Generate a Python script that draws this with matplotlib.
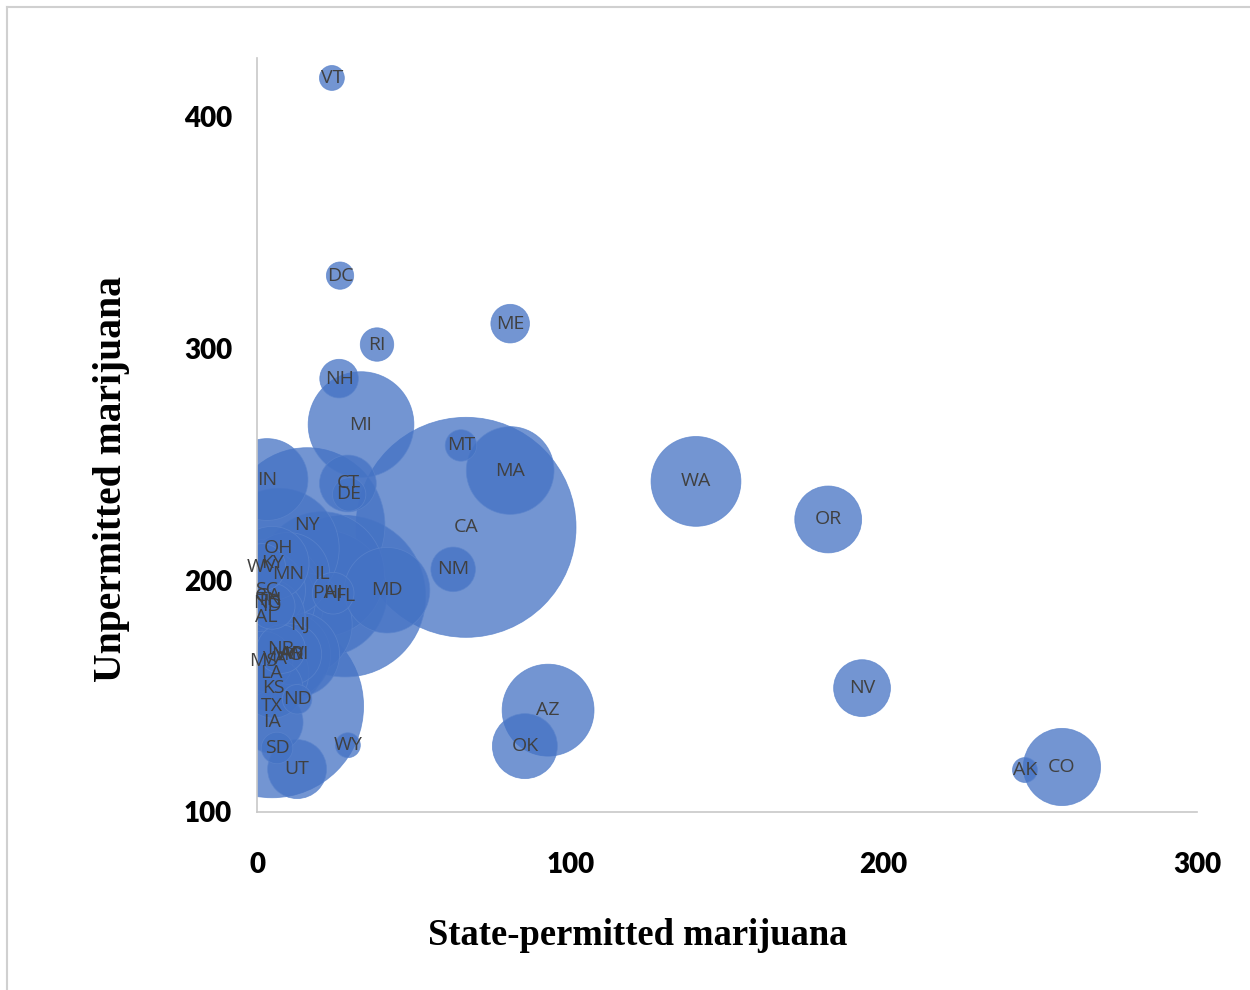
import numpy as np
import matplotlib.pyplot as plt
from matplotlib.lines import Line2D

# state codes, rates (per 100k) and bubble size (population, millions)
states = ['CA', 'TX', 'FL', 'NY', 'PA', 'IL', 'OH', 'GA', 'NC', 'MI',
          'NJ', 'VA', 'WA', 'AZ', 'MA', 'TN', 'IN', 'MO', 'MD', 'WI',
          'CO', 'MN', 'SC', 'AL', 'LA', 'KY', 'OR', 'OK', 'CT', 'UT',
          'IA', 'NV', 'AR', 'MS', 'KS', 'NM', 'NB', 'ID', 'WV', 'HI',
          'NH', 'ME', 'MT', 'RI', 'DE', 'SD', 'ND', 'AK', 'DC', 'VT', 'WY']
state_permitted = [66.7, 4.8, 28.1, 16.0, 21.4, 20.7, 7.0, 3.5, 3.2, 33.2,
                   13.7, 5.7, 140.1, 92.9, 80.8, 4.1, 3.2, 9.6, 41.5, 12.8,
                   256.9, 9.9, 2.9, 2.9, 4.5, 4.8, 182.3, 85.5, 29.0, 12.8,
                   4.8, 193.1, 10.9, 1.9, 5.1, 62.6, 7.7, 4.8, 1.6, 24.3,
                   26.2, 80.8, 65.1, 38.3, 29.4, 6.4, 12.8, 245.1, 26.5, 23.9, 29.0]
unpermitted = [222.7, 145.6, 193.0, 223.5, 194.3, 202.5, 213.6, 193.0, 190.0, 267.0,
               180.9, 165.9, 242.5, 143.9, 247.2, 191.3, 243.3, 167.6, 195.6, 168.0,
               119.4, 202.5, 195.6, 183.9, 159.8, 207.2, 226.1, 128.4, 241.6, 118.5,
               138.7, 153.4, 168.0, 165.0, 153.4, 204.6, 170.2, 188.7, 205.5, 194.3,
               286.8, 310.5, 258.0, 301.5, 236.9, 127.6, 148.6, 118.1, 331.2, 416.4, 128.8]
population = [39.0, 27.0, 21.0, 19.5, 12.8, 12.6, 11.7, 10.5, 10.3, 9.0,
              8.8, 8.4, 6.5, 6.8, 6.2, 6.7, 5.4, 6.1, 5.9, 5.8,
              4.8, 5.6, 5.0, 4.9, 4.6, 4.4, 3.6, 3.4, 2.6, 2.8,
              3.1, 2.6, 3.0, 2.9, 2.9, 1.6, 1.9, 1.7, 1.8, 1.4,
              1.2, 1.2, 0.8, 0.9, 0.9, 0.8, 0.7, 0.5, 0.6, 0.5, 0.5]

xticks = [0, 100, 200, 300]
yticks = [100, 200, 300, 400]

fig = plt.figure(figsize=(12.5, 9.9), dpi=100)
ax = fig.add_axes([0.2056, 0.1798, 0.752, 0.7616])

# bubble area proportional to population, CA ~ 110 px radius
max_r_pt = 110 * 72 / 100
sizes = (2 * max_r_pt) ** 2 * np.array(population) / max(population)

ax.scatter(state_permitted, unpermitted, s=sizes, color='#4472C4', alpha=0.75,
           edgecolors='#5b84cc', linewidths=0.6, zorder=2)

for st, x, y in zip(states, state_permitted, unpermitted):
    ax.text(x, y, st, ha='center', va='center', fontsize=14, color='#404040',
            family='Open Sans', zorder=3)

ax.set_xlim(0, 300)
ax.set_ylim(100, 425)
ax.set_xticks(xticks)
ax.set_yticks(yticks)
ax.tick_params(length=0)
ax.tick_params(axis='x', pad=29)
ax.tick_params(axis='y', pad=18)
for lab in ax.get_xticklabels() + ax.get_yticklabels():
    lab.set_fontfamily('Lato')
    lab.set_fontweight('heavy')
    lab.set_fontsize(20)

for side in ['top', 'right']:
    ax.spines[side].set_visible(False)
for side in ['left', 'bottom']:
    ax.spines[side].set_color('#c8c8c8')
    ax.spines[side].set_linewidth(1.2)

fig.text(0.5104, 0.055, 'State-permitted marijuana', ha='center', va='center',
         family='Liberation Serif', fontweight='bold', fontsize=26.3)
fig.text(0.0896, 0.516, 'Unpermitted marijuana', ha='center', va='center',
         rotation=90, family='Liberation Serif', fontweight='bold', fontsize=28.5)

# light frame around the chart
fig.add_artist(Line2D([0.0056, 1.0], [0.993, 0.993], color='#d0d0d0', lw=1.5))
fig.add_artist(Line2D([0.0056, 0.0056], [0.0, 0.993], color='#d0d0d0', lw=1.5))

fig.savefig('out.png', dpi=100)
